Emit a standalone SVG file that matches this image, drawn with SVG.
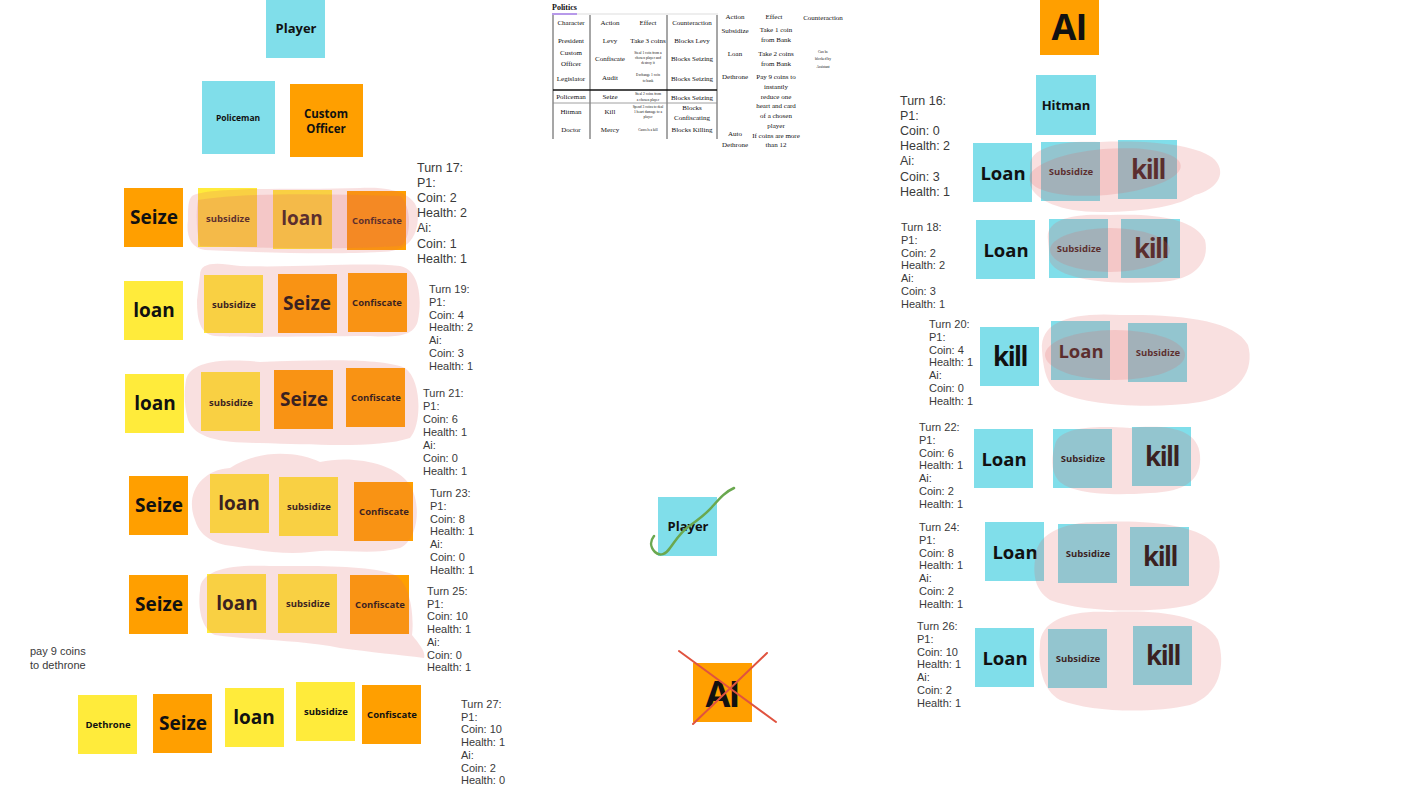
<svg xmlns="http://www.w3.org/2000/svg" width="1422" height="800" viewBox="0 0 1422 800">
<style>
.c{fill:#80deea}.o{fill:#ff9f00}.y{fill:#ffeb3b}
.l{font-family:"Open Sans","Liberation Sans",sans-serif;font-weight:700;fill:#111;text-anchor:middle;dominant-baseline:central}
.s{font-family:"Liberation Sans",Arial,sans-serif;fill:#3a3a3a}
.s1{font-size:12.5px}.s2{font-size:11px}
.t{font-family:"Liberation Serif","Times New Roman",serif;font-size:7px;fill:#111;text-anchor:middle}
.tt{font-family:"Liberation Serif","Times New Roman",serif;font-size:3.6px;fill:#111;text-anchor:middle}
.hl{fill:#e06666;opacity:0.2}
.ln{stroke:#222;stroke-width:0.8}
</style>

<!-- top left -->
<g id="player-top"><rect class="c" x="266" y="0" width="59" height="58"/><text class="l" x="296" y="28" font-size="13">Player</text></g>
<g id="policeman"><rect class="c" x="202" y="81" width="73" height="73"/><text class="l" x="238" y="117" font-size="8.5">Policeman</text></g>
<g id="custom-officer"><rect class="o" x="290" y="84" width="73" height="73"/><text class="l" x="326" y="113" font-size="11.5">Custom</text><text class="l" x="326" y="128" font-size="11.5">Officer</text></g>

<!-- row 1 -->
<g id="r1-seize"><rect class="o" x="124" y="188" width="59" height="59"/><text class="l" x="154" y="217" font-size="19">Seize</text></g>
<g id="r1-subsidize"><rect class="y" x="198" y="188" width="59" height="59"/><text class="l" x="228" y="218" font-size="9.5">subsidize</text></g>
<g id="r1-loan"><rect class="y" x="273" y="190" width="59" height="59"/><text class="l" x="302" y="218" font-size="19">loan</text></g>
<g id="r1-confiscate"><rect class="o" x="347" y="191" width="59" height="59"/><text class="l" x="377" y="220" font-size="9.5">Confiscate</text></g>
<text class="s s1" x="417" y="171.5"><tspan x="417">Turn 17:</tspan><tspan x="417" dy="15.2">P1:</tspan><tspan x="417" dy="15.2">Coin: 2</tspan><tspan x="417" dy="15.2">Health: 2</tspan><tspan x="417" dy="15.2">Ai:</tspan><tspan x="417" dy="15.2">Coin: 1</tspan><tspan x="417" dy="15.2">Health: 1</tspan></text>

<!-- row 2 -->
<g id="r2-loan"><rect class="y" x="124" y="281" width="59" height="59"/><text class="l" x="154" y="310" font-size="19">loan</text></g>
<g id="r2-subsidize"><rect class="y" x="204" y="275" width="59" height="58"/><text class="l" x="234" y="304" font-size="9.5">subsidize</text></g>
<g id="r2-seize"><rect class="o" x="278" y="274" width="59" height="59"/><text class="l" x="307" y="303" font-size="19">Seize</text></g>
<g id="r2-confiscate"><rect class="o" x="348" y="273" width="59" height="59"/><text class="l" x="377" y="302" font-size="9.5">Confiscate</text></g>
<text class="s s2" x="429" y="293"><tspan x="429">Turn 19:</tspan><tspan x="429" dy="12.8">P1:</tspan><tspan x="429" dy="12.8">Coin: 4</tspan><tspan x="429" dy="12.8">Health: 2</tspan><tspan x="429" dy="12.8">Ai:</tspan><tspan x="429" dy="12.8">Coin: 3</tspan><tspan x="429" dy="12.8">Health: 1</tspan></text>

<!-- row 3 -->
<g id="r3-loan"><rect class="y" x="125" y="374" width="59" height="59"/><text class="l" x="155" y="403" font-size="19">loan</text></g>
<g id="r3-subsidize"><rect class="y" x="201" y="372" width="59" height="59"/><text class="l" x="231" y="402" font-size="9.5">subsidize</text></g>
<g id="r3-seize"><rect class="o" x="274" y="370" width="59" height="59"/><text class="l" x="304" y="399" font-size="19">Seize</text></g>
<g id="r3-confiscate"><rect class="o" x="346" y="368" width="59" height="59"/><text class="l" x="376" y="397" font-size="9.5">Confiscate</text></g>
<text class="s s2" x="423" y="397"><tspan x="423">Turn 21:</tspan><tspan x="423" dy="13">P1:</tspan><tspan x="423" dy="13">Coin: 6</tspan><tspan x="423" dy="13">Health: 1</tspan><tspan x="423" dy="13">Ai:</tspan><tspan x="423" dy="13">Coin: 0</tspan><tspan x="423" dy="13">Health: 1</tspan></text>

<!-- row 4 -->
<g id="r4-seize"><rect class="o" x="129" y="476" width="59" height="59"/><text class="l" x="159" y="505" font-size="19">Seize</text></g>
<g id="r4-loan"><rect class="y" x="210" y="474" width="59" height="59"/><text class="l" x="239" y="503" font-size="19">loan</text></g>
<g id="r4-subsidize"><rect class="y" x="279" y="477" width="59" height="59"/><text class="l" x="309" y="506" font-size="9.5">subsidize</text></g>
<g id="r4-confiscate"><rect class="o" x="354" y="482" width="59" height="59"/><text class="l" x="384" y="511" font-size="9.5">Confiscate</text></g>
<text class="s s2" x="430" y="497"><tspan x="430">Turn 23:</tspan><tspan x="430" dy="12.8">P1:</tspan><tspan x="430" dy="12.8">Coin: 8</tspan><tspan x="430" dy="12.8">Health: 1</tspan><tspan x="430" dy="12.8">Ai:</tspan><tspan x="430" dy="12.8">Coin: 0</tspan><tspan x="430" dy="12.8">Health: 1</tspan></text>

<!-- row 5 -->
<g id="r5-seize"><rect class="o" x="129" y="575" width="59" height="59"/><text class="l" x="159" y="604" font-size="19">Seize</text></g>
<g id="r5-loan"><rect class="y" x="207" y="574" width="59" height="59"/><text class="l" x="237" y="603" font-size="19">loan</text></g>
<g id="r5-subsidize"><rect class="y" x="278" y="574" width="59" height="59"/><text class="l" x="308" y="603" font-size="9.5">subsidize</text></g>
<g id="r5-confiscate"><rect class="o" x="350" y="575" width="59" height="59"/><text class="l" x="380" y="604" font-size="9.5">Confiscate</text></g>
<text class="s s2" x="427" y="595"><tspan x="427">Turn 25:</tspan><tspan x="427" dy="12.7">P1:</tspan><tspan x="427" dy="12.7">Coin: 10</tspan><tspan x="427" dy="12.7">Health: 1</tspan><tspan x="427" dy="12.7">Ai:</tspan><tspan x="427" dy="12.7">Coin: 0</tspan><tspan x="427" dy="12.7">Health: 1</tspan></text>

<text class="s s2" x="30" y="655"><tspan x="30">pay 9 coins</tspan><tspan x="30" dy="13.5">to dethrone</tspan></text>

<!-- row 6 -->
<g id="r6-dethrone"><rect class="y" x="78" y="695" width="59" height="59"/><text class="l" x="108" y="724" font-size="9.5">Dethrone</text></g>
<g id="r6-seize"><rect class="o" x="153" y="694" width="59" height="59"/><text class="l" x="183" y="723" font-size="19">Seize</text></g>
<g id="r6-loan"><rect class="y" x="225" y="688" width="59" height="59"/><text class="l" x="254" y="717" font-size="19">loan</text></g>
<g id="r6-subsidize"><rect class="y" x="296" y="682" width="59" height="59"/><text class="l" x="326" y="711" font-size="9.5">subsidize</text></g>
<g id="r6-confiscate"><rect class="o" x="362" y="685" width="59" height="59"/><text class="l" x="392" y="714" font-size="9.5">Confiscate</text></g>
<text class="s s2" x="461" y="708"><tspan x="461">Turn 27:</tspan><tspan x="461" dy="12.7">P1:</tspan><tspan x="461" dy="12.7">Coin: 10</tspan><tspan x="461" dy="12.7">Health: 1</tspan><tspan x="461" dy="12.7">Ai:</tspan><tspan x="461" dy="12.7">Coin: 2</tspan><tspan x="461" dy="12.7">Health: 0</tspan></text>

<!-- politics table -->
<g id="politics-table">
<text x="552" y="10" font-family="Liberation Serif,serif" font-size="8" font-weight="700" fill="#111">Politics</text>
<line x1="552" y1="14" x2="718" y2="14" stroke="#ddd" stroke-width="1"/>
<line x1="552" y1="14" x2="577" y2="14" stroke="#a47de8" stroke-width="1.5"/>
<line class="ln" x1="553" y1="15" x2="553" y2="139"/>
<line class="ln" x1="590" y1="15" x2="590" y2="139"/>
<line class="ln" x1="667" y1="15" x2="667" y2="139"/>
<line class="ln" x1="717" y1="15" x2="717" y2="139"/>
<line x1="553" y1="90" x2="717" y2="90" stroke="#111" stroke-width="1.3"/>
<line x1="553" y1="103" x2="717" y2="103" stroke="#888" stroke-width="0.8"/>
<text class="t" x="571" y="25">Character</text><text class="t" x="610" y="25">Action</text><text class="t" x="648" y="25">Effect</text><text class="t" x="692" y="25">Counteraction</text>
<text class="t" x="571" y="43">President</text><text class="t" x="610" y="43">Levy</text><text class="t" x="648" y="43">Take 3 coins</text><text class="t" x="692" y="43">Blocks Levy</text>
<text class="t" x="571" y="55">Custom</text><text class="t" x="571" y="66">Officer</text><text class="t" x="610" y="61">Confiscate</text>
<text class="tt" x="648" y="54">Steal 1 coin from a</text><text class="tt" x="648" y="59">chosen player and</text><text class="tt" x="648" y="64">destroy it</text>
<text class="t" x="692" y="61">Blocks Seizing</text>
<text class="t" x="571" y="81">Legislator</text><text class="t" x="610" y="80">Audit</text>
<text class="tt" x="648" y="76">Exchange 1 coin</text><text class="tt" x="648" y="82">to bank</text>
<text class="t" x="692" y="81">Blocks Seizing</text>
<text class="t" x="571" y="99">Policeman</text><text class="t" x="610" y="99">Seize</text>
<text class="tt" x="648" y="95">Steal 2 coins from</text><text class="tt" x="648" y="101">a chosen player</text>
<text class="t" x="692" y="100">Blocks Seizing</text>
<text class="t" x="571" y="114">Hitman</text><text class="t" x="610" y="114">Kill</text>
<text class="tt" x="648" y="108">Spend 3 coins to deal</text><text class="tt" x="648" y="113">1 heart damage to a</text><text class="tt" x="648" y="118">player</text>
<text class="t" x="692" y="110">Blocks</text><text class="t" x="692" y="120">Confiscating</text>
<text class="t" x="571" y="132">Doctor</text><text class="t" x="610" y="132">Mercy</text>
<text class="tt" x="648" y="131">Cancels a kill</text>
<text class="t" x="692" y="132">Blocks Killing</text>
<text class="t" x="735" y="19">Action</text><text class="t" x="774" y="19">Effect</text><text class="t" x="823" y="20" font-size="6.5">Counteraction</text>
<text class="t" x="735" y="33">Subsidize</text><text class="t" x="776" y="32">Take 1 coin</text><text class="t" x="776" y="42">from Bank</text>
<text class="t" x="735" y="56">Loan</text><text class="t" x="776" y="56">Take 2 coins</text><text class="t" x="776" y="66">from Bank</text>
<text class="tt" x="823" y="53">Can be</text><text class="tt" x="823" y="60">blocked by</text><text class="tt" x="823" y="68">Assistant</text>
<text class="t" x="735" y="79">Dethrone</text>
<text class="t" x="776" y="79">Pay 9 coins to</text><text class="t" x="776" y="89">instantly</text><text class="t" x="776" y="99">reduce one</text><text class="t" x="776" y="108">heart and card</text><text class="t" x="776" y="118">of a chosen</text><text class="t" x="776" y="128">player</text>
<text class="t" x="735" y="136">Auto</text><text class="t" x="735" y="147">Dethrone</text>
<text class="t" x="776" y="138" font-size="5.5">If coins are more</text><text class="t" x="776" y="147" font-size="5.5">than 12</text>
</g>

<!-- center -->
<g id="player-center"><rect class="c" x="658" y="497" width="59" height="59"/><text class="l" x="688" y="526" font-size="13">Player</text></g>
<g id="ai-center"><rect class="o" x="693" y="663" width="59" height="59"/><text class="l" x="722" y="693" font-size="36" letter-spacing="-2">AI</text></g>

<!-- right -->
<g id="ai-top"><rect class="o" x="1040" y="0" width="59" height="55"/><text class="l" x="1069" y="26" font-size="36" letter-spacing="-1">AI</text></g>
<g id="hitman"><rect class="c" x="1036" y="75" width="60" height="60"/><text class="l" x="1066" y="105" font-size="13">Hitman</text></g>

<g id="R1-loan"><rect class="c" x="973" y="143" width="59" height="59"/><text class="l" x="1003" y="172" font-size="18.5">Loan</text></g>
<g id="R1-subsidize"><rect class="c" x="1041" y="142" width="59" height="59"/><text class="l" x="1071" y="171" font-size="9.5">Subsidize</text></g>
<g id="R1-kill"><rect class="c" x="1118" y="140" width="59" height="59"/><text class="l" x="1148" y="169" font-size="26" letter-spacing="-1.5">kill</text></g>
<text class="s s1" x="900" y="104.5"><tspan x="900">Turn 16:</tspan><tspan x="900" dy="15.2">P1:</tspan><tspan x="900" dy="15.2">Coin: 0</tspan><tspan x="900" dy="15.2">Health: 2</tspan><tspan x="900" dy="15.2">Ai:</tspan><tspan x="900" dy="15.2">Coin: 3</tspan><tspan x="900" dy="15.2">Health: 1</tspan></text>

<g id="R2-loan"><rect class="c" x="976" y="220" width="59" height="59"/><text class="l" x="1006" y="249" font-size="18.5">Loan</text></g>
<g id="R2-subsidize"><rect class="c" x="1049" y="219" width="59" height="59"/><text class="l" x="1079" y="248" font-size="9.5">Subsidize</text></g>
<g id="R2-kill"><rect class="c" x="1121" y="219" width="59" height="59"/><text class="l" x="1151" y="248" font-size="26" letter-spacing="-1.5">kill</text></g>
<text class="s s2" x="901" y="231"><tspan x="901">Turn 18:</tspan><tspan x="901" dy="12.8">P1:</tspan><tspan x="901" dy="12.8">Coin: 2</tspan><tspan x="901" dy="12.8">Health: 2</tspan><tspan x="901" dy="12.8">Ai:</tspan><tspan x="901" dy="12.8">Coin: 3</tspan><tspan x="901" dy="12.8">Health: 1</tspan></text>

<g id="R3-kill"><rect class="c" x="980" y="327" width="59" height="59"/><text class="l" x="1010" y="356" font-size="26" letter-spacing="-1.5">kill</text></g>
<g id="R3-loan"><rect class="c" x="1051" y="321" width="59" height="59"/><text class="l" x="1081" y="350" font-size="18.5">Loan</text></g>
<g id="R3-subsidize"><rect class="c" x="1128" y="323" width="59" height="59"/><text class="l" x="1158" y="352" font-size="9.5">Subsidize</text></g>
<text class="s s2" x="929" y="328"><tspan x="929">Turn 20:</tspan><tspan x="929" dy="12.8">P1:</tspan><tspan x="929" dy="12.8">Coin: 4</tspan><tspan x="929" dy="12.8">Health: 1</tspan><tspan x="929" dy="12.8">Ai:</tspan><tspan x="929" dy="12.8">Coin: 0</tspan><tspan x="929" dy="12.8">Health: 1</tspan></text>

<g id="R4-loan"><rect class="c" x="974" y="429" width="59" height="59"/><text class="l" x="1004" y="458" font-size="18.5">Loan</text></g>
<g id="R4-subsidize"><rect class="c" x="1053" y="429" width="59" height="59"/><text class="l" x="1083" y="458" font-size="9.5">Subsidize</text></g>
<g id="R4-kill"><rect class="c" x="1132" y="427" width="59" height="59"/><text class="l" x="1162" y="456" font-size="26" letter-spacing="-1.5">kill</text></g>
<text class="s s2" x="919" y="431"><tspan x="919">Turn 22:</tspan><tspan x="919" dy="12.8">P1:</tspan><tspan x="919" dy="12.8">Coin: 6</tspan><tspan x="919" dy="12.8">Health: 1</tspan><tspan x="919" dy="12.8">Ai:</tspan><tspan x="919" dy="12.8">Coin: 2</tspan><tspan x="919" dy="12.8">Health: 1</tspan></text>

<g id="R5-loan"><rect class="c" x="985" y="522" width="59" height="59"/><text class="l" x="1015" y="551" font-size="18.5">Loan</text></g>
<g id="R5-subsidize"><rect class="c" x="1058" y="524" width="59" height="59"/><text class="l" x="1088" y="553" font-size="9.5">Subsidize</text></g>
<g id="R5-kill"><rect class="c" x="1130" y="527" width="59" height="59"/><text class="l" x="1160" y="556" font-size="26" letter-spacing="-1.5">kill</text></g>
<text class="s s2" x="919" y="531"><tspan x="919">Turn 24:</tspan><tspan x="919" dy="12.8">P1:</tspan><tspan x="919" dy="12.8">Coin: 8</tspan><tspan x="919" dy="12.8">Health: 1</tspan><tspan x="919" dy="12.8">Ai:</tspan><tspan x="919" dy="12.8">Coin: 2</tspan><tspan x="919" dy="12.8">Health: 1</tspan></text>

<g id="R6-loan"><rect class="c" x="975" y="628" width="59" height="59"/><text class="l" x="1005" y="657" font-size="18.5">Loan</text></g>
<g id="R6-subsidize"><rect class="c" x="1048" y="629" width="59" height="59"/><text class="l" x="1078" y="658" font-size="9.5">Subsidize</text></g>
<g id="R6-kill"><rect class="c" x="1133" y="626" width="59" height="59"/><text class="l" x="1163" y="655" font-size="26" letter-spacing="-1.5">kill</text></g>
<text class="s s2" x="917" y="630"><tspan x="917">Turn 26:</tspan><tspan x="917" dy="12.8">P1:</tspan><tspan x="917" dy="12.8">Coin: 10</tspan><tspan x="917" dy="12.8">Health: 1</tspan><tspan x="917" dy="12.8">Ai:</tspan><tspan x="917" dy="12.8">Coin: 2</tspan><tspan x="917" dy="12.8">Health: 1</tspan></text>

<!-- highlight strokes -->
<g id="highlights">
<path class="hl" d="M192,196 C210,186 300,190 360,188 C395,186 418,195 418,215 C418,240 405,252 380,252 C330,255 250,252 205,250 C190,248 186,235 188,220 C188,208 188,200 192,196 Z"/>
<path class="hl" d="M198,200 C250,192 330,194 400,196 C412,205 412,240 400,246 C340,250 260,248 200,246 C196,230 196,210 198,200 Z"/>
<path class="hl" d="M200,275 C200,262 215,262 240,266 C300,268 360,262 400,266 C420,270 422,300 418,320 C415,335 400,338 370,336 C320,336 250,338 215,336 C200,334 197,320 197,300 Z"/>
<path class="hl" d="M186,380 C190,362 220,358 260,362 C320,360 380,358 405,368 C422,380 422,425 410,438 C380,448 320,445 260,443 C220,443 195,438 188,420 C184,405 184,392 186,380 Z"/>
<path class="hl" d="M195,520 C185,495 200,470 230,468 C260,448 300,452 320,462 C350,455 395,462 410,485 C422,505 418,540 400,548 C370,556 340,548 310,552 C280,556 250,548 225,545 C205,540 198,530 195,520 Z"/>
<path class="hl" d="M200,590 C200,570 230,564 270,566 C320,566 370,565 395,575 C412,585 414,620 412,635 C420,645 426,652 424,658 C400,655 370,652 340,648 C300,640 250,640 215,635 C200,628 198,605 200,590 Z"/>
<path class="hl" d="M1030,165 C1030,148 1060,140 1100,142 C1150,140 1200,145 1215,160 C1228,175 1215,190 1195,195 C1180,205 1150,212 1100,212 C1060,212 1035,200 1030,185 Z"/>
<ellipse class="hl" cx="1105" cy="172" rx="76" ry="23" transform="rotate(-5 1105 172)"/>
<path class="hl" d="M1048,240 C1045,220 1070,213 1110,215 C1160,213 1195,220 1205,240 C1210,262 1195,280 1160,282 C1110,285 1060,280 1050,262 Z"/>
<ellipse class="hl" cx="1110" cy="250" rx="60" ry="22"/>
<path class="hl" d="M1042,350 C1040,322 1070,312 1120,315 C1180,314 1235,320 1248,345 C1255,370 1240,395 1200,402 C1150,410 1080,405 1055,390 C1045,380 1043,365 1042,350 Z"/>
<ellipse class="hl" cx="1115" cy="355" rx="70" ry="25"/>
<path class="hl" d="M1055,445 C1058,428 1090,425 1130,428 C1170,424 1198,430 1200,455 C1202,480 1185,492 1150,493 C1110,496 1070,494 1058,480 C1050,470 1052,455 1055,445 Z"/>
<path class="hl" d="M1035,560 C1035,535 1060,522 1100,522 C1150,520 1200,525 1215,545 C1225,565 1220,595 1190,605 C1150,614 1080,612 1050,600 C1035,590 1033,575 1035,560 Z"/>
<path class="hl" d="M1040,645 C1040,620 1070,610 1110,612 C1160,610 1205,615 1218,640 C1226,665 1220,695 1190,705 C1150,714 1090,712 1060,700 C1042,690 1038,665 1040,645 Z"/>
</g>

<!-- annotations -->
<g id="annotations" fill="none" stroke-linecap="round" stroke-linejoin="round">
<path d="M734,488 C725,492 720,498 712,507 C705,515 698,520 688,527 C680,533 676,540 670,548 C666,554 660,557 655,552 C650,547 650,541 654,536" stroke="#6aa84f" stroke-width="2.5"/>
<path d="M679,651 L776,722" stroke="#e0533f" stroke-width="2"/>
<path d="M767,653 L693,724" stroke="#e0533f" stroke-width="2"/>
</g>
</svg>
